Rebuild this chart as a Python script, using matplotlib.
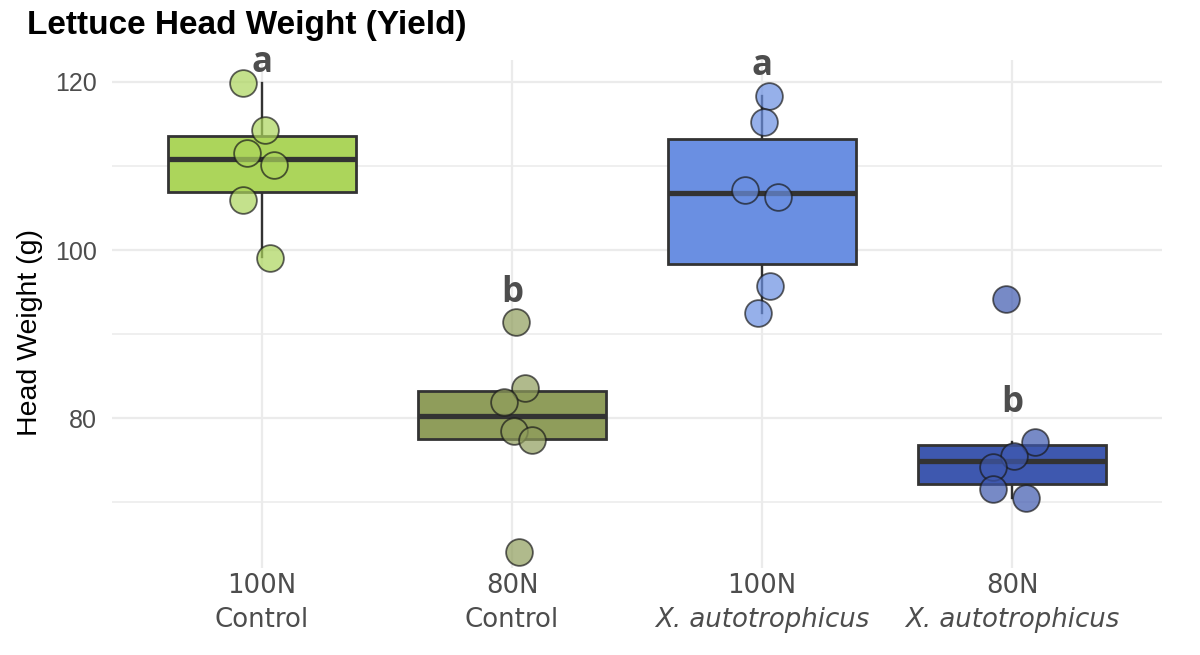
import numpy as np
import matplotlib.pyplot as plt
from matplotlib.ticker import MultipleLocator

# groups, left to right
dose = ['100N', '80N', '100N', '80N']
treatment = ['Control', 'Control', 'X. autotrophicus', 'X. autotrophicus']
italic = [False, False, True, True]

# box stats (g)
whislo = [99.2, 77.54, 92.55, 70.56]
q1 = [106.86, 77.54, 98.3, 72.15]
med = [110.78, 80.27, 106.74, 74.89]
q3 = [113.55, 83.24, 113.19, 76.83]
whishi = [119.9, 83.24, 118.3, 77.22]

# individual plants
pts_100c = [119.9, 114.26, 111.49, 110.07, 105.94, 99.0]
pts_80c = [91.48, 83.64, 81.9, 78.53, 77.42, 64.07]
pts_100x = [118.3, 115.21, 107.2, 106.26, 95.72, 92.55]
pts_80x = [94.24, 77.22, 75.52, 74.25, 71.6, 70.56]
jit_100c = [-0.075, 0.012, -0.062, 0.048, -0.078, 0.032]
jit_80c = [0.017, 0.051, -0.033, 0.008, 0.079, 0.029]
jit_100x = [0.028, 0.006, -0.068, 0.064, 0.03, -0.017]
jit_80x = [-0.025, 0.093, 0.009, -0.078, -0.076, 0.057]

# tukey letters
letters = ['a', 'b', 'a', 'b']
letter_y = [121.15, 93.86, 120.8, 80.78]

fills = ['#ACD55B', '#8F9D5B', '#6A8FE2', '#3E58AF']

points = [pts_100c, pts_80c, pts_100x, pts_80x]
jitter = [jit_100c, jit_80c, jit_100x, jit_80x]
pos = np.arange(1, 5)

fig = plt.figure(figsize=(12, 6.55), dpi=100)
ax = fig.add_axes([112/1200, 1-568/655, 1050/1200, 508/655])

stats = []
for i in range(4):
    stats.append(dict(whislo=whislo[i], q1=q1[i], med=med[i], q3=q3[i],
                      whishi=whishi[i], fliers=[]))

bp = ax.bxp(stats, positions=pos, widths=0.755, patch_artist=True, showcaps=False,
            showfliers=False,
            boxprops=dict(edgecolor='#333333', linewidth=2.0),
            medianprops=dict(color='#333333', linewidth=3.8, solid_capstyle='butt'),
            whiskerprops=dict(color='#333333', linewidth=1.7))
for patch, c in zip(bp['boxes'], fills):
    patch.set_facecolor(c)
    patch.set_zorder(2)
for w in bp['whiskers']:
    w.set_zorder(1.9)
for m in bp['medians']:
    m.set_zorder(2.1)

for i in range(4):
    x = pos[i] + np.array(jitter[i])
    ax.scatter(x, points[i], s=370, color=fills[i], alpha=0.7,
               edgecolors='#1a1a1a', linewidths=1.3, zorder=3)
    ax.text(pos[i], letter_y[i], letters[i], ha='center', va='baseline',
            fontsize=25, fontweight='bold', color='#4D4D4D', family='Open Sans',
            zorder=4)

ax.set_xlim(0.4, 4.6)
ax.set_ylim(62.2, 122.6)
ax.yaxis.set_major_locator(MultipleLocator(20))
ax.yaxis.set_minor_locator(MultipleLocator(10))
ax.set_xticks(pos)
ax.set_xticklabels([])
ax.grid(which='major', color='#EBEBEB', linewidth=1.6, zorder=0)
ax.grid(which='minor', axis='y', color='#EBEBEB', linewidth=1.1, zorder=0)
ax.set_axisbelow(True)
for s in ax.spines.values():
    s.set_visible(False)
ax.tick_params(axis='both', which='both', length=0)
ax.tick_params(axis='y', pad=11, labelsize=18, labelcolor='#4D4D4D')
for lab in ax.get_yticklabels():
    lab.set_family('Liberation Sans')

for i in range(4):
    ax.annotate(dose[i], xy=(pos[i], 0), xycoords=('data', 'axes fraction'),
                xytext=(0, -25), textcoords='offset pixels', ha='center', va='baseline',
                fontsize=18.7, color='#4D4D4D', family='DejaVu Sans')
    ax.annotate(treatment[i], xy=(pos[i], 0), xycoords=('data', 'axes fraction'),
                xytext=(0, -59), textcoords='offset pixels', ha='center', va='baseline',
                fontsize=18.7, color='#4D4D4D', family='DejaVu Sans',
                style='italic' if italic[i] else 'normal')

fig.text(27/1200, 1-34/655, 'Lettuce Head Weight (Yield)', fontsize=24,
         fontweight='bold', family='Liberation Sans', va='baseline', ha='left')
fig.text(30/1200, 1-332/655, 'Head Weight (g)', fontsize=20.5, rotation=90,
         family='Liberation Sans', va='center', ha='center')

fig.savefig('out.png', dpi=100)
